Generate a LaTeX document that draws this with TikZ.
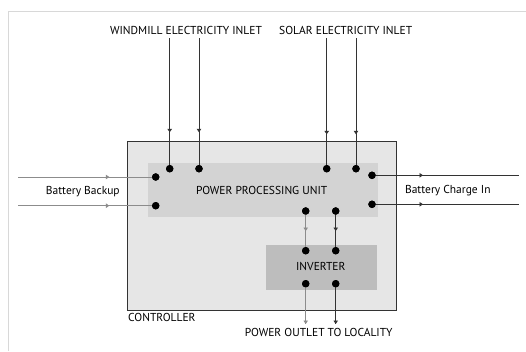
\documentclass[tikz,border=0pt]{standalone}
\usepackage{fontspec}
\setmainfont{PT Sans}
\usetikzlibrary{arrows.meta,decorations.markings}
\definecolor{ctrlfill}{HTML}{E6E6E6}
\definecolor{ppufill}{HTML}{D3D3D3}
\definecolor{invfill}{HTML}{BDBDBD}
\definecolor{darkline}{HTML}{333333}
\definecolor{greyline}{HTML}{8C8C8C}
\definecolor{framecol}{HTML}{D8D8D8}
\tikzset{
  port/.style={circle,fill=black,inner sep=0pt,minimum size=7.4pt},
  lbl/.style={font=\fontsize{11.5}{13}\selectfont,inner sep=0pt},
  wire/.style={line width=0.8pt,draw=darkline},
  gwire/.style={line width=0.8pt,draw=greyline},
  arrowat/.style={postaction={decorate},decoration={markings,mark=at position #1 with {\arrow{Triangle[length=3.5pt,width=4.5pt]}}}}
}
\begin{document}
\begin{tikzpicture}[x=1pt,y=-1pt]
\useasboundingbox (0,0) rectangle (526,351);
\fill[white] (0,0) rectangle (526,351);
\draw[framecol,line width=0.8pt] (8,351) -- (8,11) -- (526,11);
% boxes
\draw[fill=ctrlfill,draw=darkline,line width=0.8pt] (127.7,141.3) rectangle (396,310);
\fill[ppufill] (148.3,163) rectangle (378.3,216.7);
\fill[invfill] (266.3,245) rectangle (376.7,289.7);
\node[lbl] (ppu) at (261.7,190.7) {POWER PROCESSING UNIT};
\node[lbl] (inv) at (320.8,266.7) {INVERTER};
\node[lbl,anchor=west] (ctrl) at (128,317.3) {CONTROLLER};
% labels
\node[lbl] (wind) at (186,30) {WINDMILL ELECTRICITY INLET};
\node[lbl] (solar) at (345.7,30) {SOLAR ELECTRICITY INLET};
\node[lbl] (bb) at (82.8,192) {Battery Backup};
\node[lbl] (bci) at (447.8,190.7) {Battery Charge In};
\node[lbl] (out) at (318.7,332.3) {POWER OUTLET TO LOCALITY};
% ports
\node[port] (w1) at (169.7,168.7) {};
\node[port] (w2) at (199,168.7) {};
\node[port] (s1) at (326.7,168.7) {};
\node[port] (s2) at (356,168.7) {};
\node[port] (l1) at (155.7,177) {};
\node[port] (l2) at (155.7,205.7) {};
\node[port] (r1) at (372,175.3) {};
\node[port] (r2) at (372,204.3) {};
\node[port] (p1) at (305.7,211) {};
\node[port] (p2) at (335.7,211) {};
\node[port] (i1) at (305.7,250.7) {};
\node[port] (i2) at (335.7,250.7) {};
\node[port] (o1) at (305.7,283.7) {};
\node[port] (o2) at (335.7,283.7) {};
% free ends
\coordinate (tw1) at (169.7,38.3);
\coordinate (tw2) at (199,38.3);
\coordinate (ts1) at (326.7,38.3);
\coordinate (ts2) at (356,38.3);
\coordinate (el1) at (18.3,177);
\coordinate (el2) at (18.3,205.7);
\coordinate (er1) at (519,175.3);
\coordinate (er2) at (519,204.3);
\coordinate (eo1) at (305.7,324);
\coordinate (eo2) at (335.7,324);
% wires
\draw[wire,arrowat=94pt] (tw1) -- (w1.center);
\draw[wire,arrowat=94pt] (tw2) -- (w2.center);
\draw[wire,arrowat=96pt] (ts1) -- (s1.center);
\draw[wire,arrowat=96pt] (ts2) -- (s2.center);
\draw[gwire,arrowat=91pt] (el1) -- (l1.center);
\draw[gwire,arrowat=91pt] (el2) -- (l2.center);
\draw[wire,arrowat=51pt] (r1.center) -- (er1);
\draw[wire,arrowat=51pt] (r2.center) -- (er2);
\draw[gwire,arrowat=20pt] (p1.center) -- (i1.center);
\draw[wire,arrowat=20pt] (p2.center) -- (i2.center);
\draw[gwire,arrowat=1] (o1.center) -- (eo1);
\draw[wire,arrowat=1] (o2.center) -- (eo2);
% redraw ports on top
\foreach \p in {w1,w2,s1,s2,l1,l2,r1,r2,p1,p2,i1,i2,o1,o2}{\fill[black] (\p) circle (3.7pt);}
\end{tikzpicture}
\end{document}
